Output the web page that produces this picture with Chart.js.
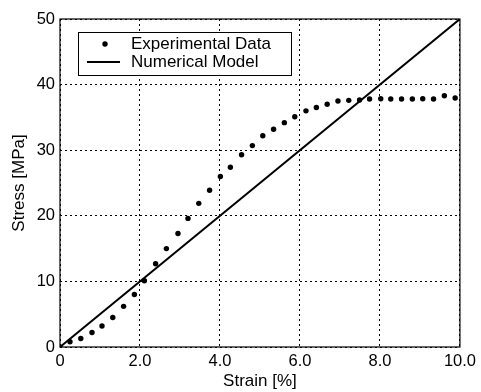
<!DOCTYPE html>
<html>
<head>
<meta charset="utf-8">
<script src="https://cdn.jsdelivr.net/npm/chart.js@4"></script>
<style>
  html, body { margin: 0; padding: 0; background: #fff; }
  #wrap { width: 481px; height: 392px; }
</style>
</head>
<body>
<div id="wrap"><canvas id="chart" width="481" height="392"></canvas></div>
<script>
// ---- data ----
const expStrain = [0, 0.25, 0.52, 0.80, 1.05, 1.32, 1.59, 1.86, 2.11, 2.39, 2.66, 2.95, 3.20, 3.47, 3.74,
    4.01, 4.26, 4.54, 4.81, 5.07, 5.34, 5.61, 5.87, 6.15, 6.41, 6.68, 6.95, 7.22, 7.49, 7.74,
    8.02, 8.27, 8.54, 8.81, 9.07, 9.34, 9.61, 9.88];
const expStress = [0, 0.8, 1.3, 2.2, 3.2, 4.5, 6.2, 8.0, 10.1, 12.7, 15.0, 17.3, 19.6, 21.9, 23.9,
    26.0, 27.4, 29.3, 30.7, 32.2, 33.2, 34.2, 35.1, 36.0, 36.5, 37.0, 37.5, 37.6, 37.65, 37.8,
    37.85, 37.8, 37.8, 37.8, 37.85, 37.8, 38.3, 37.95];
const modelStrain = [0, 10];
const modelStress = [0, 50];
const seriesLabels = ["Experimental Data", "Numerical Model"];
const xTicks = [0, 2, 4, 6, 8, 10];
const yTicks = [0, 10, 20, 30, 40, 50];

const FONT = "'Liberation Sans', Arial, sans-serif";

const toPoints = (xs, ys) => xs.map((x, i) => ({ x, y: ys[i] }));

// frame round the plot area (solid, all four sides)
const framePlugin = {
    id: "frame",
    afterDatasetsDraw(chart) {
        const { ctx, chartArea: a } = chart;
        ctx.save();
        ctx.strokeStyle = "#000";
        ctx.lineWidth = 1.2;
        ctx.strokeRect(a.left, a.top, a.right - a.left, a.bottom - a.top);
        ctx.restore();
    }
};

// legend box inside the plot, upper left
const boxLegend = {
    id: "boxLegend",
    afterDraw(chart) {
        const { ctx, chartArea: a } = chart;
        const x = a.left + 18, y = a.top + 13, w = 213, h = 43;
        ctx.save();
        ctx.fillStyle = "#fff";
        ctx.fillRect(x, y, w, h);
        ctx.strokeStyle = "#000";
        ctx.lineWidth = 1;
        ctx.strokeRect(x + 0.5, y + 0.5, w, h);

        ctx.fillStyle = "#000";
        ctx.beginPath();
        ctx.arc(x + 27, y + 12, 2.7, 0, Math.PI * 2);
        ctx.fill();

        ctx.beginPath();
        ctx.lineWidth = 1.8;
        ctx.moveTo(x + 9, y + 30);
        ctx.lineTo(x + 42, y + 30);
        ctx.stroke();

        ctx.font = "17px " + FONT;
        ctx.textBaseline = "middle";
        ctx.textAlign = "left";
        const ds = chart.data.datasets;
        ctx.fillText(ds[0].label, x + 53, y + 12);
        ctx.fillText(ds[1].label, x + 53, y + 30);
        ctx.restore();
    }
};

new Chart(document.getElementById("chart"), {
    type: "scatter",
    data: {
        datasets: [
            {
                label: seriesLabels[0],
                data: toPoints(expStrain, expStress),
                showLine: false,
                pointRadius: 2.7,
                pointBackgroundColor: "#000",
                pointBorderWidth: 0
            },
            {
                label: seriesLabels[1],
                data: toPoints(modelStrain, modelStress),
                showLine: true,
                borderColor: "#000",
                borderWidth: 2,
                pointRadius: 0
            }
        ]
    },
    options: {
        responsive: false,
        animation: false,
        events: [],
        layout: { autoPadding: false, padding: { top: 19, right: 17, left: 0, bottom: 0 } },
        plugins: { legend: { display: false }, tooltip: { enabled: false } },
        scales: {
            x: {
                type: "linear",
                min: 0, max: 10,
                afterFit: s => { s.height = 45; },
                afterBuildTicks: s => { s.ticks = xTicks.map(v => ({ value: v })); },
                ticks: {
                    color: "#000",
                    padding: 5,
                    font: { family: FONT, size: 16.5 },
                    callback: v => (v === 0 ? "0" : v.toFixed(1))
                },
                grid: { color: "#000", lineWidth: 1, drawTicks: false },
                border: { display: false, dash: [2, 3] },
                title: {
                    display: true, text: "Strain [%]", color: "#000",
                    font: { family: FONT, size: 17 }, padding: { top: 0, bottom: 0 }
                }
            },
            y: {
                type: "linear",
                min: 0, max: 50,
                afterFit: s => { s.width = 60; },
                afterBuildTicks: s => { s.ticks = yTicks.map(v => ({ value: v })); },
                ticks: {
                    color: "#000",
                    padding: 5,
                    font: { family: FONT, size: 16.5 }
                },
                grid: { color: "#000", lineWidth: 1, drawTicks: false },
                border: { display: false, dash: [2, 3] },
                title: {
                    display: true, text: "Stress [MPa]", color: "#000",
                    font: { family: FONT, size: 17 }, padding: { top: 9, bottom: 0 }
                }
            }
        }
    },
    plugins: [framePlugin, boxLegend]
});
</script>
</body>
</html>
